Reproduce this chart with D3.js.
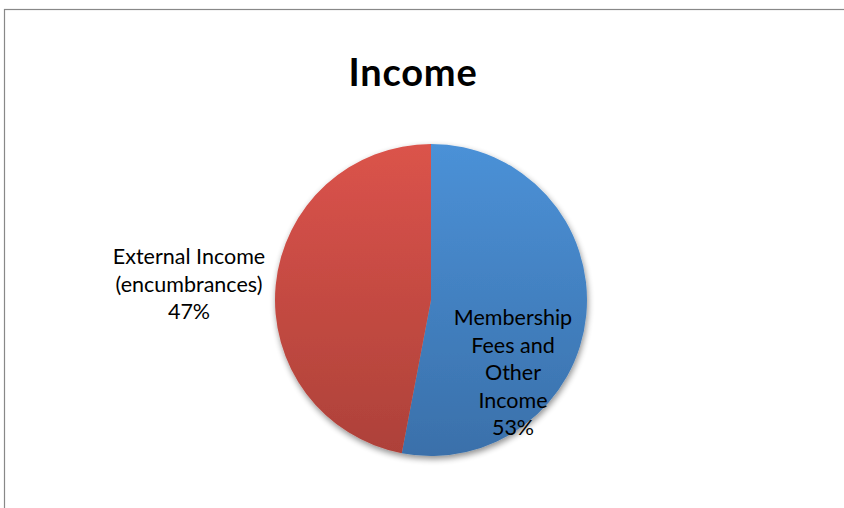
<!DOCTYPE html>
<html>
<head>
<meta charset="utf-8">
<script src="https://cdn.jsdelivr.net/npm/d3@7"></script>
<style>
  body { margin: 0; background: #fff; }
  svg { display: block; }
</style>
</head>
<body>
<svg width="844" height="508"></svg>
<script>
let title = 'Income'
let categories = ['Membership Fees and Other Income', 'External Income (encumbrances)']
let values = [53, 47]
let labelLines = [
  ['Membership', 'Fees and', 'Other', 'Income', '53%'],
  ['External Income', '(encumbrances)', '47%']
]
let colors = [['#4b91d7', '#3a70aa'], ['#db534b', '#ad4139']]

let cx = 431, cy = 300, radius = 156

let svg = d3.select('svg')
let defs = svg.append('defs')

// chart frame (runs off the right and bottom edge)
svg.append('rect')
  .attr('x', 4.5).attr('y', 9.5)
  .attr('width', 900).attr('height', 600)
  .attr('fill', '#fff')
  .attr('stroke', '#888')
  .attr('stroke-width', 1.2)

let shadow = defs.append('filter')
  .attr('id', 'shadow')
  .attr('x', '-20%').attr('y', '-20%')
  .attr('width', '140%').attr('height', '140%')
shadow.append('feGaussianBlur').attr('in', 'SourceAlpha').attr('stdDeviation', 3)
shadow.append('feOffset').attr('dx', 1).attr('dy', 3).attr('result', 'off')
shadow.append('feComponentTransfer').append('feFuncA').attr('type', 'linear').attr('slope', 0.45)
let merge = shadow.append('feMerge')
merge.append('feMergeNode')
merge.append('feMergeNode').attr('in', 'SourceGraphic')

// vertical gradient for each slice, in pie coords
colors.forEach((c, i) => {
  let g = defs.append('linearGradient')
    .attr('id', 'grad' + i)
    .attr('gradientUnits', 'userSpaceOnUse')
    .attr('x1', 0).attr('x2', 0)
    .attr('y1', -radius).attr('y2', radius)
  g.append('stop').attr('offset', '0%').attr('stop-color', c[0])
  g.append('stop').attr('offset', '100%').attr('stop-color', c[1])
})

svg.append('text')
  .attr('x', 413)
  .attr('y', 86)
  .attr('text-anchor', 'middle')
  .style('font-family', 'Lato, "Open Sans", sans-serif')
  .style('font-weight', 'bold')
  .style('font-size', '38px')
  .style('letter-spacing', '0.8px')
  .text(title)

let pie = d3.pie().sort(null).value(d => d)
let arc = d3.arc().innerRadius(0).outerRadius(radius)
let arcs = pie(values)

let chart = svg.append('g')
  .attr('transform', 'translate(' + cx + ',' + cy + ')')

chart.append('g')
  .attr('filter', 'url(#shadow)')
  .selectAll('path')
  .data(arcs)
  .enter()
  .append('path')
  .attr('d', arc)
  .attr('fill', (d, i) => 'url(#grad' + i + ')')
  .append('title')
  .text((d, i) => categories[i])

let labelPos = [[513, 325], [189, 264]]
let lineH = 27.5

labelLines.forEach((lines, i) => {
  let t = svg.append('text')
    .attr('text-anchor', 'middle')
    .style('font-family', 'Lato, "Open Sans", sans-serif')
    .style('font-size', '21.5px')
    .attr('fill', '#000')
  t.selectAll('tspan')
    .data(lines)
    .enter()
    .append('tspan')
    .attr('x', labelPos[i][0])
    .attr('y', (d, j) => labelPos[i][1] + j * lineH)
    .text(d => d)
})
</script>
</body>
</html>
